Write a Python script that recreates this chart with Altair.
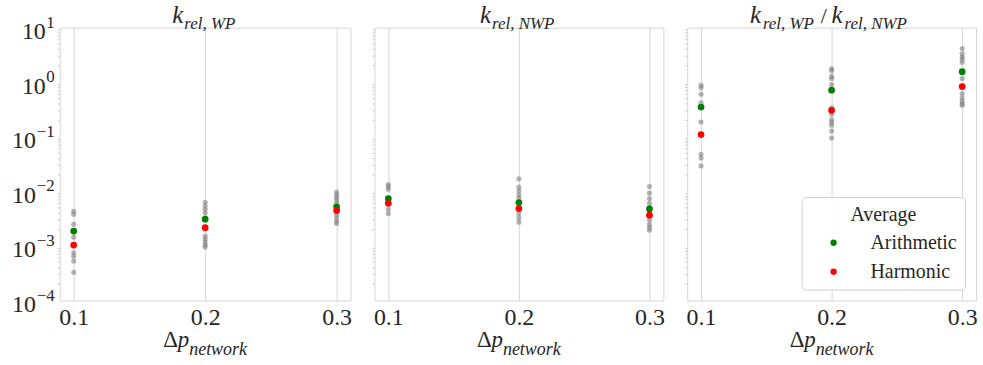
import altair as alt
import pandas as pd

# Pressure steps on the x axis, shared by all three panels
DP = [0.1, 0.2, 0.3]
X_TICKS = [0.1, 0.2, 0.3]
Y_EXPONENTS = [1, 0, -1, -2, -3, -4]

# k_rel,WP: individual samples per pressure step
WP_01 = [4.3e-3, 3.8e-3, 2.5e-3, 1.45e-3, 7.5e-4, 6.5e-4, 5.3e-4, 3.3e-4]
WP_02 = [6.3e-3, 5.4e-3, 4.7e-3, 4.0e-3, 1.52e-3, 1.34e-3, 1.18e-3, 1.04e-3, 9.6e-4]
WP_03 = [9.7e-3, 8.7e-3, 7.8e-3, 7.0e-3, 6.2e-3, 3.76e-3, 3.27e-3, 2.85e-3, 2.58e-3]
WP_ARITH = [1.87e-3, 3.1e-3, 5.2e-3]
WP_HARM = [1.04e-3, 2.16e-3, 4.45e-3]

# k_rel,NWP
NWP_01 = [1.34e-2, 1.22e-2, 1.09e-2, 4.7e-3, 3.93e-3]
NWP_02 = [1.7e-2, 1.2e-2, 1.03e-2, 8.7e-3, 7.57e-3, 3.93e-3, 3.27e-3, 2.73e-3]
NWP_03 = [1.23e-2, 9.3e-3, 7.36e-3, 5.97e-3, 2.97e-3, 2.48e-3, 2.18e-3, 1.95e-3]
NWP_ARITH = [7.36e-3, 6.22e-3, 4.77e-3]
NWP_HARM = [6.05e-3, 4.84e-3, 3.66e-3]

# k_rel,WP / k_rel,NWP
RATIO_01 = [0.88, 0.79, 0.60, 0.42, 0.187, 0.0477, 0.041, 0.0293]
RATIO_02 = [1.77, 1.63, 1.29, 1.17, 0.91, 0.341, 0.258, 0.204, 0.182, 0.163, 0.127, 0.0946]
RATIO_03 = [4.15, 3.32, 2.89, 2.66, 2.31, 1.17, 0.614, 0.512, 0.445, 0.404, 0.377]
RATIO_ARITH = [0.351, 0.716, 1.56]
RATIO_HARM = [0.110, 0.305, 0.834]

SERIES = ["Arithmetic", "Harmonic"]
SERIES_COLORS = ["green", "red"]

FONT = "Liberation Serif"
INK = "#262626"
GRID = "#d6d6d6"
X_DOMAIN = [0.0894, 0.3106]
Y_DOMAIN = [1e-4, 1e1]
HEIGHT = 274


def samples_frame(groups):
    return pd.DataFrame(
        [{"dp": dp, "value": v} for dp, vals in zip(DP, groups) for v in vals]
    )


def averages_frame(arith, harm):
    rows = [{"dp": dp, "value": v, "kind": SERIES[0]} for dp, v in zip(DP, arith)]
    rows += [{"dp": dp, "value": v, "kind": SERIES[1]} for dp, v in zip(DP, harm)]
    return pd.DataFrame(rows)


x_scale = alt.Scale(domain=X_DOMAIN, nice=False, zero=False)
y_scale = alt.Scale(type="log", domain=Y_DOMAIN, nice=False)

x_enc = alt.X(
    "dp:Q",
    scale=x_scale,
    axis=alt.Axis(
        values=X_TICKS, format=".1f", title=None, grid=True, gridColor=GRID,
        ticks=False, domain=False, labelFont=FONT, labelFontSize=24,
        labelColor=INK, labelPadding=5, labelFlush=False,
    ),
)
y_enc = alt.Y(
    "value:Q",
    scale=y_scale,
    axis=alt.Axis(
        values=[10.0 ** e for e in Y_EXPONENTS], labels=False, title=None,
        grid=True, gridColor=GRID, ticks=True, tickSize=3.5,
        tickColor="#9a9a9a", domain=False,
    ),
)
y_plain = alt.Y("value:Q", scale=y_scale, axis=None)


def piece(text, x, y, size, italic=True):
    return alt.Chart(alt.Data(values=[{}])).mark_text(
        text=text, font=FONT, fontSize=size,
        fontStyle="italic" if italic else "normal",
        color=INK, align="left", baseline="alphabetic",
    ).encode(x=alt.value(x), y=alt.value(y))


def minor_ticks():
    vals = [m * 10.0 ** d for d in range(-4, 1) for m in range(2, 10)]
    return alt.Chart(pd.DataFrame({"value": vals})).mark_rule(
        color="#c8c8c8", strokeWidth=1
    ).encode(y=y_plain, x=alt.value(-2), x2=alt.value(0))


def x_title(center):
    start = center - 42
    return [
        piece("Δ", start, HEIGHT + 47, 23, italic=False),
        piece("p", start + 14.5, HEIGHT + 47, 23),
        piece("network", start + 26, HEIGHT + 55, 18),
    ]


def y_labels():
    df = pd.DataFrame({
        "value": [10.0 ** e for e in Y_EXPONENTS],
        "exp": [str(e).replace("-", "\u2212") for e in Y_EXPONENTS],
        "neg": [e < 0 for e in Y_EXPONENTS],
    })
    base = alt.Chart(df)
    sup = base.mark_text(
        font=FONT, fontSize=17, color=INK, align="right", baseline="alphabetic"
    ).encode(y=y_plain, x=alt.value(-5), text="exp:N")
    ten_pos = base.transform_filter("!datum.neg").mark_text(
        text="10", font=FONT, fontSize=24, color=INK, align="right",
        baseline="alphabetic", dy=11.5,
    ).encode(y=y_plain, x=alt.value(-14))
    ten_neg = base.transform_filter("datum.neg").mark_text(
        text="10", font=FONT, fontSize=24, color=INK, align="right",
        baseline="alphabetic", dy=11.5,
    ).encode(y=y_plain, x=alt.value(-24))
    return [sup, ten_pos, ten_neg]


def panel(groups, arith, harm, width, title_layers, extra=(), legend=None):
    pts = alt.Chart(samples_frame(groups)).mark_circle(
        size=26, color="#808080", opacity=0.6
    ).encode(x=x_enc, y=y_enc)
    avg = alt.Chart(averages_frame(arith, harm)).mark_circle(
        size=46, opacity=1
    ).encode(
        x=alt.X("dp:Q", scale=x_scale),
        y=y_plain,
        color=alt.Color(
            "kind:N",
            scale=alt.Scale(domain=SERIES, range=SERIES_COLORS),
            legend=legend,
        ),
    )
    layers = [pts, minor_ticks(), avg] + list(title_layers) + x_title(width / 2) + list(extra)
    return alt.layer(*layers).properties(width=width, height=HEIGHT)


legend = alt.Legend(
    title="Average", orient="bottom-right", offset=11,
    titleFont=FONT, titleFontSize=20, titleFontWeight="normal", titleColor=INK,
    titleAnchor="middle", titlePadding=8,
    labelFont=FONT, labelFontSize=20, labelColor=INK, labelOffset=27,
    symbolType="circle", symbolSize=40, symbolOffset=14, symbolStrokeWidth=0,
    rowPadding=9, padding=8, strokeColor="#d0d0d0",
    fillColor="rgba(255,255,255,0.85)", cornerRadius=4,
)

p1 = panel(
    [WP_01, WP_02, WP_03], WP_ARITH, WP_HARM, 292,
    [piece("k", 113, -5, 25), piece("rel, WP", 125, 1, 17)],
    extra=y_labels(),
)
p2 = panel(
    [NWP_01, NWP_02, NWP_03], NWP_ARITH, NWP_HARM, 290,
    [piece("k", 106, -5, 25), piece("rel, NWP", 118, 1, 17)],
)
p3 = panel(
    [RATIO_01, RATIO_02, RATIO_03], RATIO_ARITH, RATIO_HARM, 290,
    [
        piece("k", 63, -5, 25), piece("rel, WP", 76, 1, 17),
        piece("/", 134, -5, 22, italic=False),
        piece("k", 145, -5, 25), piece("rel, NWP", 158, 1, 17),
    ],
    legend=legend,
)

chart = (
    alt.hconcat(p1, p2, p3, spacing=24, bounds="flush")
    .resolve_scale(color="independent")
    .configure(padding={"left": 11, "top": 1, "right": 5, "bottom": 5})
    .configure_view(stroke=GRID, strokeWidth=1)
)

chart.save("out.html", embed_options={"renderer": "svg", "actions": False})
